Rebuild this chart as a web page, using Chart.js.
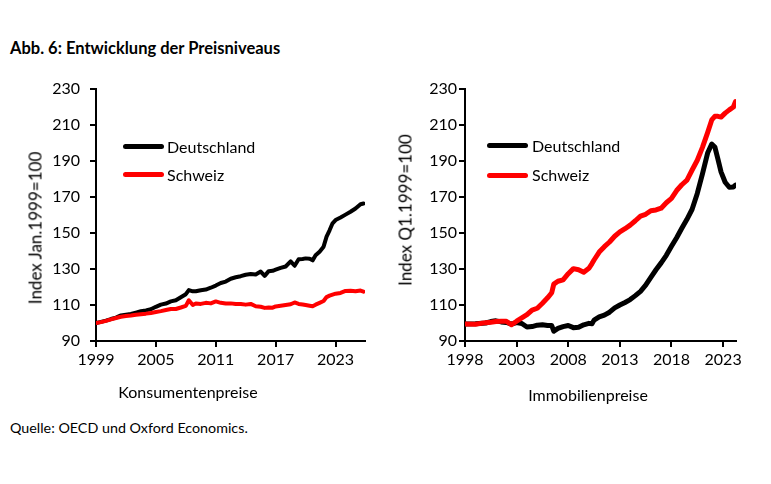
<!DOCTYPE html>
<html>
<head>
<meta charset="utf-8">
<script src="https://cdn.jsdelivr.net/npm/chart.js@4.4.1/dist/chart.umd.min.js"></script>
<style>
  body { margin: 0; background: #fff; font-family: Lato, sans-serif; color: #000; }
  #page { position: relative; width: 771px; height: 484px; overflow: hidden; }
  .box { position: absolute; top: 60px; width: 385px; height: 350px; }
  .txt { position: absolute; white-space: nowrap; font-size: 16px; line-height: 16px; }
  .ytitle { transform: translate(-50%, -50%) rotate(-90deg); font-size: 17px; line-height: 17px; }
  .xtitle { transform: translate(-50%, -50%); }
  .leg { position: absolute; height: 5px; width: 41px; border-radius: 3px; }
</style>
</head>
<body>
<div id="page">
  <div class="txt" style="left:10px; top:40px; font-weight:bold; font-size:16.5px; line-height:16px;">Abb. 6: Entwicklung der Preisniveaus</div>

  <div class="box" style="left:0px;"><canvas id="cpiChart" width="385" height="350"></canvas></div>
  <div class="box" style="left:385px; width:386px;"><canvas id="immoChart" width="386" height="350"></canvas></div>

  <div class="txt ytitle" style="left:35px; top:228px;">Index Jan.1999=100</div>
  <div class="txt ytitle" style="left:405px; top:210px;">Index Q1.1999=100</div>
  <div class="txt xtitle" style="left:188px; top:392px;">Konsumentenpreise</div>
  <div class="txt xtitle" style="left:588px; top:395px;">Immobilienpreise</div>

  <div class="leg" style="left:123px; top:144px; background:#000;"></div>
  <div class="txt" style="left:167px; top:139px;">Deutschland</div>
  <div class="leg" style="left:123px; top:172px; background:#ff0000;"></div>
  <div class="txt" style="left:167px; top:167px;">Schweiz</div>

  <div class="leg" style="left:487px; top:143px; background:#000;"></div>
  <div class="txt" style="left:532px; top:138px;">Deutschland</div>
  <div class="leg" style="left:487px; top:173px; background:#ff0000;"></div>
  <div class="txt" style="left:532px; top:167px;">Schweiz</div>

  <div class="txt" style="left:10px; top:421px; font-size:14.3px; line-height:14px;">Quelle: OECD und Oxford Economics.</div>
</div>

<script>
// Konsumentenpreise (Index Jan.1999=100)
const cpiYears = [1999.0, 1999.5, 2000.0, 2000.5, 2001.0, 2001.5, 2002.0, 2002.5, 2003.0, 2003.5,
  2004.0, 2004.5, 2005.0, 2005.5, 2006.0, 2006.5, 2007.0, 2007.5, 2008.0, 2008.3,
  2008.7, 2009.0, 2009.5, 2010.0, 2010.5, 2011.0, 2011.5, 2012.0, 2012.5, 2013.0,
  2013.5, 2014.0, 2014.5, 2015.0, 2015.5, 2015.9, 2016.3, 2016.7, 2017.0, 2017.5,
  2018.0, 2018.5, 2018.9, 2019.3, 2019.7, 2020.0, 2020.4, 2020.7, 2021.0, 2021.4,
  2021.8, 2022.1, 2022.4, 2022.7, 2023.0, 2023.5, 2024.0, 2024.5, 2025.0, 2025.5, 2025.8];
const cpiDeutschland = [100.0, 100.6, 101.3, 102.2, 103.0, 104.2, 104.6, 105.0, 105.8, 106.6,
  107.0, 107.6, 109.0, 110.2, 110.8, 112.0, 112.6, 114.3, 116.0, 118.3,
  117.6, 117.6, 118.2, 118.6, 119.6, 120.8, 122.2, 123.0, 124.6, 125.4,
  126.0, 126.8, 127.2, 127.0, 128.6, 126.2, 128.8, 129.0, 129.6, 130.6,
  131.4, 134.2, 131.8, 135.4, 135.6, 135.9, 135.7, 134.8, 137.6, 139.6,
  142.4, 148.0, 151.5, 155.4, 157.2, 158.6, 160.2, 161.8, 163.6, 166.0, 166.4];
const cpiSchweiz = [100.0, 100.5, 101.2, 102.0, 102.8, 103.5, 103.9, 104.2, 104.6, 104.9,
  105.2, 105.6, 106.1, 106.6, 107.2, 107.8, 107.8, 108.6, 109.5, 112.6,
  110.0, 110.8, 110.6, 111.2, 110.9, 112.0, 111.2, 110.8, 110.9, 110.5,
  110.6, 110.2, 110.6, 109.3, 109.0, 108.4, 108.6, 108.5, 109.2, 109.6,
  110.0, 110.4, 111.4, 110.6, 110.3, 110.0, 109.6, 109.3, 110.2, 111.2,
  112.2, 114.4, 115.2, 115.8, 116.3, 116.7, 117.8, 117.9, 117.6, 118.0, 117.4];
const cpiTickYears = [1999, 2005, 2011, 2017, 2023];

// Immobilienpreise (Index Q1.1999=100)
const immoYears = [1998.0, 1999.0, 2000.0, 2000.5, 2001.0, 2001.5, 2002.0, 2002.5, 2003.0, 2003.5,
  2004.0, 2004.5, 2005.0, 2005.5, 2006.0, 2006.4, 2006.6, 2007.0, 2007.5, 2008.0,
  2008.5, 2009.0, 2009.5, 2010.0, 2010.3, 2010.5, 2011.0, 2011.5, 2012.0, 2012.5,
  2013.0, 2013.5, 2014.0, 2014.5, 2015.0, 2015.5, 2016.0, 2016.5, 2017.0, 2017.5,
  2018.0, 2018.5, 2019.0, 2019.5, 2020.0, 2020.5, 2021.0, 2021.5, 2021.9, 2022.2,
  2022.5, 2022.8, 2023.2, 2023.6, 2024.0, 2024.2];
const immoDeutschland = [99.4, 99.6, 100.0, 100.8, 101.2, 100.6, 100.3, 99.4, 100.2, 99.7,
  97.8, 98.0, 98.8, 99.0, 98.6, 98.6, 95.4, 97.0, 98.0, 98.6,
  97.4, 97.6, 99.0, 99.8, 99.6, 101.6, 103.4, 104.4, 106.0, 108.4,
  110.0, 111.4, 113.0, 115.2, 117.6, 121.0, 125.4, 129.6, 133.4, 137.6,
  142.6, 147.4, 152.6, 157.6, 163.2, 172.0, 182.8, 194.4, 199.4, 197.8,
  191.0, 184.0, 178.2, 175.4, 175.6, 176.6];
const immoSchweiz = [99.4, 99.3, 100.2, 100.4, 100.8, 101.0, 101.0, 99.0, 101.0, 102.8,
  104.6, 107.2, 108.2, 111.0, 114.0, 116.8, 121.6, 123.2, 124.0, 127.4,
  130.2, 129.6, 128.2, 130.4, 133.0, 135.0, 139.4, 142.4, 145.0, 148.2,
  150.6, 152.4, 154.4, 156.8, 159.4, 160.4, 162.4, 162.8, 163.8, 166.8,
  169.2, 173.6, 176.8, 179.4, 185.0, 190.4, 197.6, 205.8, 212.8, 214.8,
  214.8, 214.4, 216.6, 218.4, 220.0, 223.0];
const immoTickYears = [1998, 2003, 2008, 2013, 2018, 2023];

const yMin = 90, yMax = 230, yStep = 20;

Chart.defaults.font.family = "Lato, sans-serif";
Chart.defaults.font.size = 16;
Chart.defaults.color = "#000";
Chart.defaults.animation = false;

function pairs(xs, ys) {
  return xs.map((x, i) => ({ x: x, y: ys[i] }));
}

function makeChart(id, years, de, ch, tickYears, xMin, xMax, opts) {
  const ctx = document.getElementById(id).getContext("2d");
  return new Chart(ctx, {
    type: "line",
    data: {
      datasets: [
        {
          label: "Schweiz",
          data: pairs(years, ch),
          borderColor: "#ff0000",
          borderWidth: opts.lineWidth,
          pointRadius: 0,
          tension: 0,
          borderCapStyle: "round",
          borderJoinStyle: "round",
        },
        {
          label: "Deutschland",
          data: pairs(years, de),
          borderColor: "#000000",
          borderWidth: opts.lineWidth,
          pointRadius: 0,
          tension: 0,
          borderCapStyle: "round",
          borderJoinStyle: "round",
        },
      ],
    },
    options: {
      responsive: false,
      layout: { padding: { top: 29, right: opts.padRight, bottom: 0, left: 0 } },
      plugins: { legend: { display: false }, tooltip: { enabled: false } },
      scales: {
        x: {
          type: "linear",
          min: xMin,
          max: xMax,
          afterBuildTicks: (s) => { s.ticks = tickYears.map((v) => ({ value: v })); },
          afterFit: (s) => { s.height = 69; },
          ticks: { callback: (v) => String(v), padding: 3, maxRotation: 0, autoSkip: false },
          grid: { drawOnChartArea: false, tickLength: 6, color: "#000", lineWidth: 2 },
          border: { color: "#000", width: 2 },
        },
        y: {
          min: yMin,
          max: yMax,
          afterFit: (s) => { s.width = opts.yWidth; },
          ticks: { stepSize: yStep, padding: opts.yPad },
          grid: { drawOnChartArea: false, tickLength: 6, color: "#000", lineWidth: 2 },
          border: { color: "#000", width: 2 },
        },
      },
    },
  });
}

makeChart("cpiChart", cpiYears, cpiDeutschland, cpiSchweiz, cpiTickYears, 1999, 2025.95,
  { lineWidth: 4, padRight: 20, yWidth: 96, yPad: 10 });
makeChart("immoChart", immoYears, immoDeutschland, immoSchweiz, immoTickYears, 1998, 2024.25,
  { lineWidth: 5, padRight: 35, yWidth: 80, yPad: 2 });
</script>
</body>
</html>
